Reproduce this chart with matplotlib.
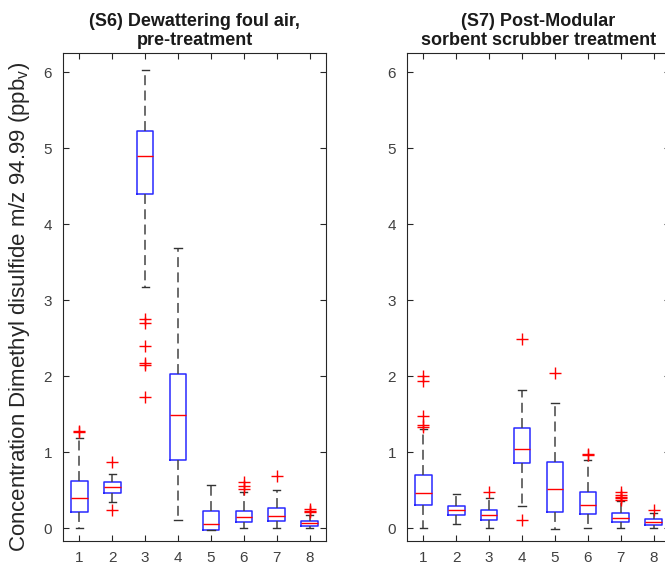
import matplotlib
matplotlib.use("Agg")
import matplotlib.pyplot as plt

plt.rcParams['font.family'] = ['Liberation Sans', 'DejaVu Sans']

# groups 1..8
labels = ['1', '2', '3', '4', '5', '6', '7', '8']

# (S6) Dewattering foul air, pre-treatment
s6_lo = [0.0, 0.34, 3.17, 0.10, -0.03, 0.0, 0.0, 0.0]
s6_q1 = [0.21, 0.46, 4.40, 0.89, -0.03, 0.08, 0.09, 0.03]
s6_med = [0.39, 0.54, 4.89, 1.49, 0.06, 0.14, 0.155, 0.066]
s6_q3 = [0.62, 0.60, 5.23, 2.03, 0.22, 0.226, 0.27, 0.097]
s6_hi = [1.18, 0.71, 6.02, 3.69, 0.57, 0.47, 0.50, 0.17]
s6_fliers = [[1.26, 1.28], [0.24, 0.87],
             [1.73, 2.15, 2.17, 2.39, 2.70, 2.75],
             [], [], [0.52, 0.55, 0.60], [0.69], [0.21, 0.23, 0.25]]

# (S7) Post-Modular sorbent scrubber treatment
s7_lo = [0.0, 0.057, 0.0, 0.29, -0.017, 0.0, 0.0, 0.0]
s7_q1 = [0.30, 0.174, 0.11, 0.854, 0.21, 0.18, 0.074, 0.04]
s7_med = [0.46, 0.235, 0.166, 1.046, 0.514, 0.30, 0.135, 0.078]
s7_q3 = [0.70, 0.287, 0.235, 1.316, 0.87, 0.475, 0.196, 0.118]
s7_hi = [1.30, 0.444, 0.39, 1.81, 1.64, 0.90, 0.353, 0.20]
s7_fliers = [[1.33, 1.35, 1.48, 1.94, 2.0], [], [0.48], [0.11, 2.49],
             [2.04], [0.96, 0.98], [0.37, 0.39, 0.41, 0.43, 0.48], [0.235]]


def make_stats(lo, q1, med, q3, hi, fliers):
    stats = []
    for i in range(len(med)):
        stats.append(dict(whislo=lo[i], q1=q1[i], med=med[i], q3=q3[i],
                          whishi=hi[i], fliers=fliers[i], label=labels[i]))
    return stats


def draw(ax, stats, title):
    ax.bxp(stats, positions=range(1, 9), widths=0.5, capwidths=0.22,
           boxprops=dict(color='#2828ff', linewidth=1.1),
           medianprops=dict(color='red', linewidth=1.0),
           whiskerprops=dict(color='#444444', linewidth=1.1,
                             linestyle=(0, (6.5, 3.5))),
           capprops=dict(color='#333333', linewidth=1.0),
           flierprops=dict(marker='+', markeredgecolor='red',
                           markersize=9, markeredgewidth=1.0))
    ax.set_xlim(0.5, 8.5)
    ax.set_ylim(-0.17, 6.25)
    ax.set_yticks(range(0, 7))
    ax.set_title(title, fontsize=13, fontweight='bold', pad=6,
                 linespacing=1.12, color='#1a1a1a')
    ax.tick_params(direction='in', top=True, right=True, length=4,
                   color='#262626', labelcolor='#404040', labelsize=11)
    ax.tick_params(axis='x', pad=7)
    ax.tick_params(axis='y', pad=8)
    for sp in ax.spines.values():
        sp.set_color('#262626')
        sp.set_linewidth(0.8)


fig = plt.figure(figsize=(6.65, 5.71), dpi=100)
W, H = 665.0, 571.0
ax1 = fig.add_axes([63 / W, (H - 541) / H, 263 / W, 488 / H])
ax2 = fig.add_axes([407 / W, (H - 541) / H, 263 / W, 488 / H])

draw(ax1, make_stats(s6_lo, s6_q1, s6_med, s6_q3, s6_hi, s6_fliers),
     '(S6) Dewattering foul air,\npre-treatment')
draw(ax2, make_stats(s7_lo, s7_q1, s7_med, s7_q3, s7_hi, s7_fliers),
     '(S7) Post-Modular\nsorbent scrubber treatment')

ax1.set_ylabel('Concentration Dimethyl disulfide m/z 94.99 (ppb$_\\mathregular{v}$)',
               fontsize=16, color='#262626')
ax1.yaxis.set_label_coords(-0.118, 0.48)

fig.savefig('out.png', dpi=100)
